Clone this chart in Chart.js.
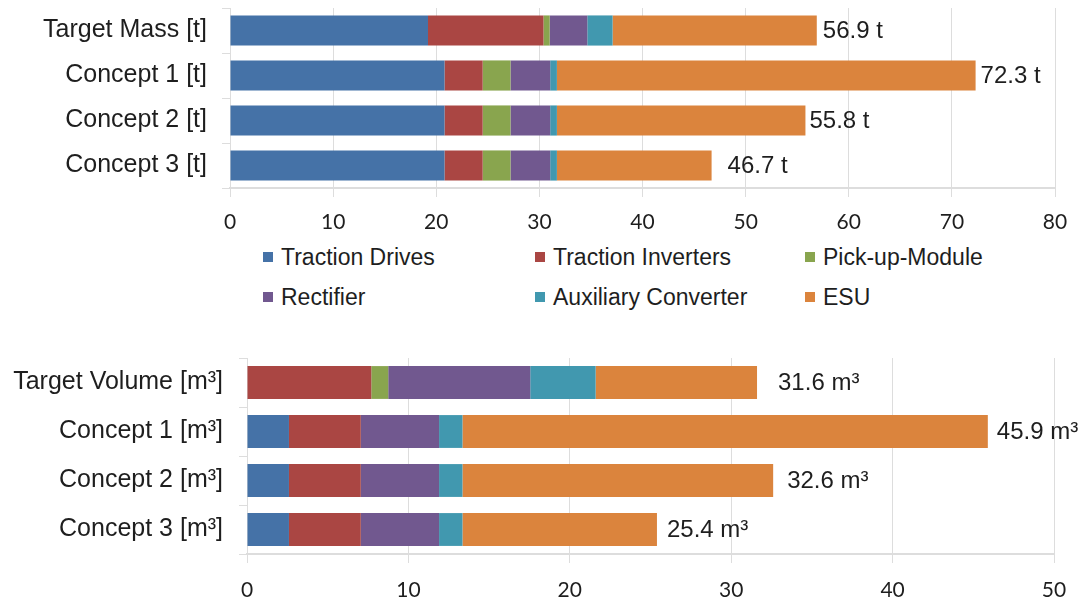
<!DOCTYPE html>
<html>
<head>
<meta charset="utf-8">
<script src="https://cdn.jsdelivr.net/npm/chart.js@4/dist/chart.umd.min.js"></script>
<style>
  html, body { margin: 0; padding: 0; background: #ffffff; }
  #wrap { position: relative; width: 1085px; height: 603px; overflow: hidden; }
  canvas { position: absolute; left: 0; }
  #massChart { top: 0; }
  #volumeChart { top: 330px; }
  .lg { position: absolute; font: 23px 'Liberation Sans', Arial, sans-serif; color: #1e1e1e; white-space: nowrap; line-height: 26px; }
  .lg i { position: absolute; left: 0; top: 8px; width: 10px; height: 10px; }
  .lg span { position: absolute; left: 18px; top: 0; }
</style>
</head>
<body>
<div id="wrap">
  <canvas id="massChart" width="1085" height="240"></canvas>
  <div id="legend"></div>
  <canvas id="volumeChart" width="1085" height="273"></canvas>
</div>
<script>
// Component groups shown in both stacks
const seriesNames = ['Traction Drives', 'Traction Inverters', 'Pick-up-Module', 'Rectifier', 'Auxiliary Converter', 'ESU'];
const seriesColors = ['#4572A7', '#AA4643', '#89A54E', '#71588F', '#4198AF', '#DB843D'];

// Mass breakdown [t]
const massCategories = ['Target Mass [t]', 'Concept 1 [t]', 'Concept 2 [t]', 'Concept 3 [t]'];
const massTractionDrives = [19.2, 20.8, 20.8, 20.8];
const massTractionInverters = [11.2, 3.7, 3.7, 3.7];
const massPickUpModule = [0.6, 2.7, 2.7, 2.7];
const massRectifier = [3.65, 3.85, 3.85, 3.85];
const massAuxiliaryConverter = [2.45, 0.65, 0.65, 0.65];
const massESU = [19.8, 40.6, 24.1, 15.0];
const massTicks = [0, 10, 20, 30, 40, 50, 60, 70, 80];

// Volume breakdown [m³]
const volumeCategories = ['Target Volume [m³]', 'Concept 1 [m³]', 'Concept 2 [m³]', 'Concept 3 [m³]'];
const volumeTractionDrives = [0, 2.6, 2.6, 2.6];
const volumeTractionInverters = [7.7, 4.45, 4.45, 4.45];
const volumePickUpModule = [1.05, 0, 0, 0];
const volumeRectifier = [8.8, 4.85, 4.85, 4.85];
const volumeAuxiliaryConverter = [4.05, 1.45, 1.45, 1.45];
const volumeESU = [10.0, 32.55, 19.25, 12.05];
const volumeTicks = [0, 10, 20, 30, 40, 50];

// Horizontal spacing of the total labels after each bar end (px)
const massLabelGap = [6, 5, 4, 16];
const volumeLabelGap = [21, 9, 14, 10];

const labelFont = "'Liberation Sans', Arial, sans-serif";
const tickFont = "Lato, 'Open Sans', sans-serif";
const gridColor = '#dddddd';
const textColor = '#1e1e1e';

function buildDatasets(seriesValues) {
  return seriesValues.map((vals, k) => ({
    label: seriesNames[k],
    data: vals,
    backgroundColor: seriesColors[k],
    borderWidth: 0,
    barPercentage: 0.67,
    categoryPercentage: 1.0
  }));
}

// Writes the stacked total to the right of each bar
const totalLabels = {
  id: 'totalLabels',
  afterDatasetsDraw(chart, args, opts) {
    const ctx = chart.ctx;
    const xs = chart.scales.x, ys = chart.scales.y;
    const n = chart.data.labels.length;
    ctx.save();
    ctx.font = '24px ' + labelFont;
    ctx.fillStyle = textColor;
    ctx.textAlign = 'left';
    ctx.textBaseline = 'middle';
    for (let i = 0; i < n; i++) {
      let total = 0;
      chart.data.datasets.forEach(ds => { total += ds.data[i]; });
      const x = xs.getPixelForValue(total) + opts.gaps[i];
      const y = ys.getPixelForValue(i) + 1;
      ctx.fillText(total.toFixed(1) + ' ' + opts.unit, x, y);
    }
    ctx.restore();
  }
};

function makeChart(id, categories, seriesValues, ticks, cfg) {
  return new Chart(document.getElementById(id), {
    type: 'bar',
    data: { labels: categories, datasets: buildDatasets(seriesValues) },
    plugins: [totalLabels],
    options: {
      indexAxis: 'y',
      responsive: false,
      animation: false,
      devicePixelRatio: 1,
      layout: { padding: { top: cfg.top, right: cfg.right, left: 0, bottom: 0 } },
      plugins: {
        legend: { display: false },
        tooltip: { enabled: false },
        totalLabels: { gaps: cfg.gaps, unit: cfg.unit }
      },
      scales: {
        x: {
          stacked: true,
          min: ticks[0],
          max: ticks[ticks.length - 1],
          afterBuildTicks: s => { s.ticks = ticks.map(v => ({ value: v })); },
          afterFit: s => { s.height = cfg.xHeight; },
          grid: { color: gridColor, lineWidth: 1, tickLength: 9, drawTicks: true },
          border: { display: true, color: gridColor, width: 2 },
          ticks: {
            color: textColor,
            padding: cfg.xPad,
            maxRotation: 0,
            font: { family: tickFont, size: 21 }
          }
        },
        y: {
          stacked: true,
          afterFit: s => { s.width = cfg.left; s.paddingTop = 0; s.paddingBottom = 0; },
          grid: { display: true, drawOnChartArea: false, offset: true, tickLength: 8, color: gridColor },
          border: { display: true, color: gridColor, width: 1 },
          ticks: {
            color: textColor,
            padding: cfg.yPad,
            font: { family: labelFont, size: 25 }
          }
        }
      }
    }
  });
}

makeChart('massChart', massCategories,
  [massTractionDrives, massTractionInverters, massPickUpModule, massRectifier, massAuxiliaryConverter, massESU],
  massTicks,
  { top: 8, right: 30, left: 230, xHeight: 52, xPad: 13, yPad: 15, gaps: massLabelGap, unit: 't' });

makeChart('volumeChart', volumeCategories,
  [volumeTractionDrives, volumeTractionInverters, volumePickUpModule, volumeRectifier, volumeAuxiliaryConverter, volumeESU],
  volumeTicks,
  { top: 28, right: 31, left: 247, xHeight: 49, xPad: 15, yPad: 16, gaps: volumeLabelGap, unit: 'm³' });

// Shared legend, three columns by two rows
const legend = document.getElementById('legend');
const legendCols = [263, 535, 805];
const legendRows = [244, 284];
seriesNames.forEach((name, k) => {
  const item = document.createElement('div');
  item.className = 'lg';
  item.style.left = legendCols[k % 3] + 'px';
  item.style.top = legendRows[Math.floor(k / 3)] + 'px';
  const sw = document.createElement('i');
  sw.style.background = seriesColors[k];
  const tx = document.createElement('span');
  tx.textContent = name;
  item.appendChild(sw);
  item.appendChild(tx);
  legend.appendChild(item);
});
</script>
</body>
</html>
